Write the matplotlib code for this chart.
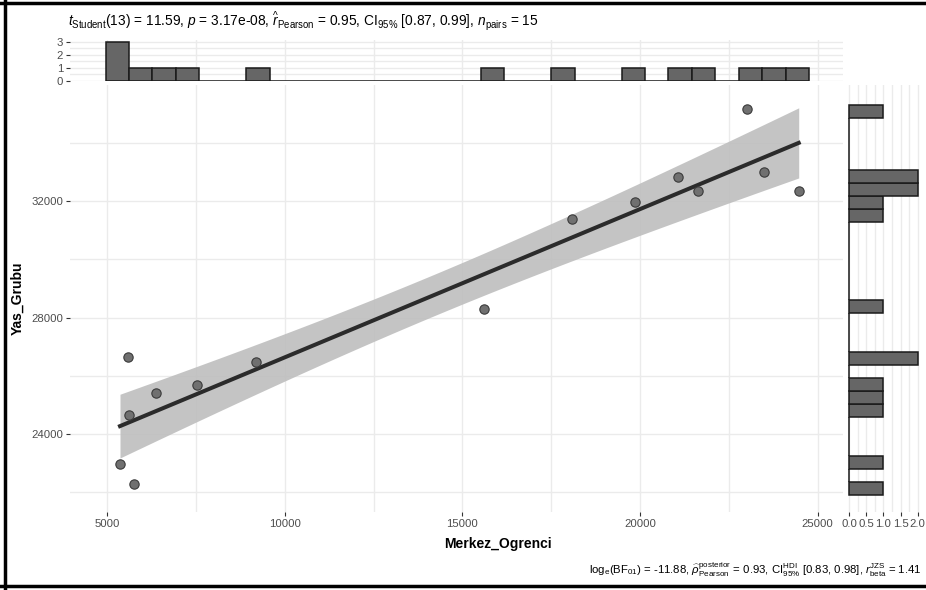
import numpy as np
import matplotlib
matplotlib.use("Agg")
from matplotlib import pyplot as plt
from matplotlib.lines import Line2D
from matplotlib.ticker import MultipleLocator

plt.rcParams['font.family'] = ['Liberation Sans', 'DejaVu Sans']
plt.rcParams['mathtext.fontset'] = 'custom'
plt.rcParams['mathtext.rm'] = 'Liberation Sans'
plt.rcParams['mathtext.it'] = 'Liberation Sans:italic'
plt.rcParams['mathtext.bf'] = 'Liberation Sans:bold'

# veriler
merkez_ogrenci = [5366, 5582, 5610, 5760, 6388, 7524, 9184, 15617,
                  18085, 19858, 21059, 21631, 23019, 23500, 24465]
yas_grubu = [22961, 26634, 24653, 22274, 25400, 25683, 26483, 28292,
             31371, 31955, 32835, 32332, 35148, 33000, 32332]

x_ticks = [5000, 10000, 15000, 20000, 25000]
y_ticks = [24000, 28000, 32000]
count_ticks_top = [0, 1, 2, 3]
count_ticks_right = [0.0, 0.5, 1.0, 1.5, 2.0]

title = (r'$t_{\mathrm{Student}}$(13) = 11.59, $p$ = 3.17e-08, '
         r'$\widehat{r}_{\mathrm{Pearson}}$ = 0.95, CI$_{95\%}$ [0.87, 0.99], '
         r'$n_{\mathrm{pairs}}$ = 15')
caption = (r'log$_{\mathrm{e}}$(BF$_{01}$) = -11.88, '
           r'$\widehat{\rho}_{\mathrm{Pearson}}^{\mathrm{posterior}}$ = 0.93, '
           r'CI$_{95\%}^{\mathrm{HDI}}$ [0.83, 0.98], '
           r'$r_{\mathrm{beta}}^{\mathrm{JZS}}$ = 1.41')

x = np.array(merkez_ogrenci, dtype=float)
y = np.array(yas_grubu, dtype=float)

# histogram kutulari
x_bins = 4960 + 660 * np.arange(31)
y_bins = 21918 + 446 * np.arange(31)

# dogrusal regresyon + %95 guven araligi
n = len(x)
slope, intercept = np.polyfit(x, y, 1)
xs = np.linspace(x.min(), x.max(), 100)
fit = intercept + slope * xs
resid = y - (intercept + slope * x)
s = np.sqrt(np.sum(resid ** 2) / (n - 2))
t_crit = 2.160  # t(0.975, 13)
se = s * np.sqrt(1 / n + (xs - x.mean()) ** 2 / np.sum((x - x.mean()) ** 2))

W, H = 926, 590
fig = plt.figure(figsize=(W / 100, H / 100), dpi=100)

def frac(l, t, r, b):
    return [l / W, 1 - b / H, (r - l) / W, (b - t) / H]

ax = fig.add_axes(frac(70, 85, 843, 512))
ax_top = fig.add_axes(frac(70, 40, 843, 81))
ax_right = fig.add_axes(frac(848, 85, 926, 512))

grid_c = '#EBEBEB'
tick_c = '#4D4D4D'
xlim = (3959, 25711)
ylim = (21323, 35982)

for a in (ax, ax_top, ax_right):
    for sp in a.spines.values():
        sp.set_visible(False)
    a.tick_params(colors='#333333', labelcolor=tick_c, labelsize=8.2,
                  length=3, width=0.8, pad=2)
    a.set_axisbelow(True)

# ana grafik
ax.fill_between(xs, fit - t_crit * se, fit + t_crit * se,
                color='#BEBEBE', alpha=0.9, linewidth=0, zorder=2)
ax.plot(xs, fit, color='#2B2B2B', linewidth=2.9, zorder=3)
ax.scatter(x, y, s=45, color='#707070', edgecolor='#3A3A3A',
           linewidth=0.8, zorder=4)
ax.set_xlim(xlim)
ax.set_ylim(ylim)
ax.set_xticks(x_ticks)
ax.set_yticks(y_ticks)
ax.xaxis.set_minor_locator(MultipleLocator(2500))
ax.yaxis.set_minor_locator(MultipleLocator(2000))
ax.tick_params(which='minor', length=0)
ax.grid(True, which='both', color=grid_c, linewidth=1.0)

# ust histogram
ax_top.hist(x, bins=x_bins, color='#666666', edgecolor='#1A1A1A',
            linewidth=1.1, zorder=3)
ax_top.set_xlim(xlim)
ax_top.set_ylim(0, 3.15)
ax_top.set_xticks(x_ticks)
ax_top.set_yticks(count_ticks_top)
ax_top.xaxis.set_minor_locator(MultipleLocator(2500))
ax_top.yaxis.set_minor_locator(MultipleLocator(0.5))
ax_top.tick_params(axis='x', which='both', length=0, labelbottom=False)
ax_top.tick_params(axis='y', which='minor', length=0)
ax_top.grid(True, which='both', color=grid_c, linewidth=1.0)

# sag histogram
ax_right.hist(y, bins=y_bins, orientation='horizontal', color='#666666',
              edgecolor='#1A1A1A', linewidth=1.1, zorder=3)
ax_right.set_ylim(ylim)
ax_right.set_xlim(-0.03, 2.24)
ax_right.set_xticks(count_ticks_right)
ax_right.set_xticklabels(['0.0', '0.5', '1.0', '1.5', '2.0'])
ax_right.xaxis.set_minor_locator(MultipleLocator(0.25))
ax_right.tick_params(axis='x', which='minor', length=0)
ax_right.tick_params(axis='y', which='both', length=0, labelleft=False)
ax_right.grid(True, axis='x', which='both', color=grid_c, linewidth=1.0)

# yazilar
fig.text(68 / W, 1 - 21 / H, title, fontsize=9.9, va='center', ha='left')
fig.text(498 / W, 1 - 544 / H, 'Merkez_Ogrenci', fontsize=10,
         fontweight='bold', ha='center', va='center')
fig.text(18 / W, 1 - 298 / H, 'Yas_Grubu', fontsize=10, fontweight='bold',
         rotation=90, ha='center', va='center')
fig.text(922 / W, 1 - 570 / H, caption, fontsize=8.2, ha='right', va='center')

# cerceve
for xy in ([(5 / W, 5 / W), (0, 1)], [(0, 1), (1 - 3 / H, 1 - 3 / H)],
           [(0, 1), (4 / H, 4 / H)]):
    fig.add_artist(Line2D(xy[0], xy[1], color='black', linewidth=2.5))

fig.savefig('out.png', dpi=100)
